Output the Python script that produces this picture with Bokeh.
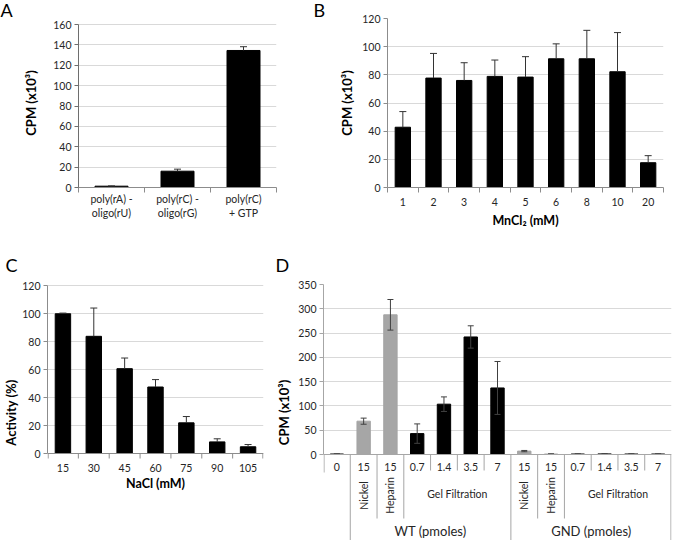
from bokeh.plotting import figure
from bokeh.layouts import column, row
from bokeh.models import Range1d, FixedTicker
from bokeh.embed import file_html
from bokeh.resources import INLINE
from bokeh.core.properties import value

FONT = "Lato"
TICK_COLOR = "#262626"
GRID = "#d9d9d9"
AXIS = "#8c8c8c"
ERR = "#333333"

# ---------------- data ----------------
# Panel A
a_labels = ["poly(rA) -\noligo(rU)", "poly(rC) -\noligo(rG)", "poly(rC)\n+ GTP"]
a_values = [1.3, 16.0, 134.5]
a_errors = [0.3, 2.0, 3.7]

# Panel B
b_labels = ["1", "2", "3", "4", "5", "6", "8", "10", "20"]
b_values = [42.8, 77.7, 76.0, 78.9, 78.4, 91.4, 91.4, 82.2, 17.6]
b_errors = [11.1, 17.5, 12.6, 11.6, 14.5, 10.6, 20.2, 27.8, 5.0]

# Panel C
c_labels = ["15", "30", "45", "60", "75", "90", "105"]
c_values = [99.8, 83.7, 60.6, 47.5, 21.9, 8.3, 4.8]
c_errors = [0.5, 20.2, 7.6, 5.3, 4.5, 2.2, 1.6]

# Panel D
d_amounts = ["0", "15", "15", "0.7", "1.4", "3.5", "7", "15", "15", "0.7", "1.4", "3.5", "7"]
d_methods = ["", "Nickel", "Heparin", "Gel Filtration", "Gel Filtration", "Gel Filtration", "Gel Filtration",
             "Nickel", "Heparin", "Gel Filtration", "Gel Filtration", "Gel Filtration", "Gel Filtration"]
d_groups = ["", "WT (pmoles)", "WT (pmoles)", "WT (pmoles)", "WT (pmoles)", "WT (pmoles)", "WT (pmoles)",
            "GND (pmoles)", "GND (pmoles)", "GND (pmoles)", "GND (pmoles)", "GND (pmoles)", "GND (pmoles)"]
d_values = [1.0, 68.6, 287.6, 43.0, 103.6, 242.0, 137.0, 7.0, 1.0, 1.0, 1.2, 1.0, 1.0]
d_errors = [0.3, 6.3, 31.5, 20.0, 15.0, 23.0, 54.5, 1.3, 0.3, 0.3, 0.3, 0.3, 0.3]


def make_fig(width, height, n, ystart, yend, borders, x_axis=True):
    kw = {}
    if not x_axis:
        kw["x_axis_location"] = None
    p = figure(width=width, height=height, x_range=Range1d(0.5, n + 0.5), y_range=Range1d(ystart, yend),
               output_backend="svg", toolbar_location=None,
               min_border_left=borders[0], min_border_right=borders[1],
               min_border_top=borders[2], min_border_bottom=borders[3], **kw)
    p.outline_line_color = None
    p.xgrid.grid_line_color = None
    p.ygrid.grid_line_color = GRID
    return p


def style_y(p, ymax, step, ylabel, standoff, axis_color=AXIS):
    ax = p.yaxis[0]
    ax.ticker = FixedTicker(ticks=list(range(0, ymax + 1, step)))
    ax.bounds = (0, ymax)
    ax.axis_line_color = axis_color
    ax.major_tick_line_color = axis_color
    ax.major_tick_out = 4
    ax.major_tick_in = 0
    ax.minor_tick_line_color = None
    ax.major_label_text_font = FONT
    ax.major_label_text_font_size = "10.5px"
    ax.major_label_text_color = TICK_COLOR
    ax.major_label_standoff = 3
    ax.axis_label = ylabel
    ax.axis_label_text_font = FONT
    ax.axis_label_text_font_size = "13px"
    ax.axis_label_text_font_style = "bold"
    ax.axis_label_text_color = "black"
    ax.axis_label_standoff = standoff


def letter(p, text, offset, standoff):
    p.title.text = text
    p.title.align = "left"
    p.title.vertical_align = "top"
    p.title.offset = offset
    p.title.standoff = standoff
    p.title.text_font = FONT
    p.title.text_font_size = "18px"
    p.title.text_font_style = "normal"
    p.title.text_color = "black"


def bars_up(p, values, errors):
    xs = list(range(1, len(values) + 1))
    p.vbar(x=xs, top=values, width=0.5, fill_color="black", line_color="black")
    tops = [v + e for v, e in zip(values, errors)]
    p.segment(x0=xs, y0=values, x1=xs, y1=tops, line_color=ERR, line_width=1)
    p.scatter(x=xs, y=tops, marker="dash", size=7, line_color=ERR, line_width=1)
    return xs


def real_x_axis(p, labels, xs, standoff, xlabel=None, axis_color=AXIS):
    n = len(labels)
    ax = p.xaxis[0]
    ax.ticker = FixedTicker(ticks=xs, minor_ticks=[i + 0.5 for i in range(n + 1)])
    ax.major_label_overrides = {x: l for x, l in zip(xs, labels)}
    ax.major_tick_out = 0
    ax.major_tick_in = 0
    ax.minor_tick_out = 5
    ax.minor_tick_in = 0
    ax.axis_line_color = axis_color
    ax.minor_tick_line_color = axis_color
    ax.major_label_text_font = FONT
    ax.major_label_text_font_size = "10.5px"
    ax.major_label_text_color = TICK_COLOR
    ax.major_label_standoff = standoff
    if xlabel:
        ax.axis_label = xlabel
        ax.axis_label_text_font = FONT
        ax.axis_label_text_font_size = "12.5px"
        ax.axis_label_text_font_style = "bold"
        ax.axis_label_text_color = "black"
        ax.axis_label_standoff = 4


# ---------------- Row 1 : A and B (frames 18..187) ----------------
ROW1_H = 245
TOP1, BOT1 = 18, ROW1_H - 187

# A: 0 at frame bottom (187), 160 at y=24
a_top = 160 + 6 * 160 / 163.0
pA = make_fig(312, ROW1_H, len(a_labels), 0, a_top, (78, 36, TOP1, BOT1))
style_y(pA, 160, 20, "CPM (x10³)", 11, axis_color="#6e6e6e")
xsA = bars_up(pA, a_values, a_errors)
real_x_axis(pA, a_labels, xsA, 0, axis_color="#8c8c8c")
letter(pA, "A", -78, -9)

pB = make_fig(362, ROW1_H, len(b_labels), 0, 120, (75, 11, TOP1, BOT1))
style_y(pB, 120, 20, "CPM (x10³)", 4)
xsB = bars_up(pB, b_values, b_errors)
real_x_axis(pB, b_labels, xsB, 5, xlabel="MnCl₂ (mM)")
letter(pB, "B", -74, -9)

# ---------------- Row 2 : C and D (frames 284..540) ----------------
ROW2_H = 540 - ROW1_H
TOP2 = 284 - ROW1_H

# C: 0 at y=453, 120 at y=285 -> 1.4 px per unit
kC = 168 / 120.0
pC = make_fig(270, ROW2_H, len(c_labels), -(540 - 453) / kC, 120 + 1 / kC, (42, 7, TOP2, 0), x_axis=False)
style_y(pC, 120, 20, "Activity (%)", 0)
xsC = bars_up(pC, c_values, c_errors)
nC = len(c_labels)
pC.segment(x0=[0.5], y0=[0], x1=[nC + 0.5], y1=[0], line_color=AXIS, line_width=1)
bx = [i + 0.5 for i in range(nC + 1)]
bx[0] += 0.02
bx[-1] -= 0.02
pC.segment(x0=bx, y0=[0] * len(bx), x1=bx, y1=[-5 / kC] * len(bx), line_color=AXIS, line_width=1)
pC.text(x=xsC, y=[-14 / kC] * nC, text=c_labels, text_font=value(FONT), text_font_size="10.5px",
        text_color=TICK_COLOR, text_align="center", text_baseline="middle")
pC.text(x=[(nC + 1) / 2], y=[-30 / kC], text=["NaCl (mM)"], text_font=value(FONT),
        text_font_size="12.5px", text_font_style="bold", text_color="black",
        text_align="center", text_baseline="middle")
letter(pC, "C", -42, 13)

# D: 0 at y=454, 350 at y=284
n = len(d_amounts)
xs = list(range(1, n + 1))
PX = 350.0 / 170.0  # data units per pixel
ybot = -86 * PX
pD = make_fig(404, ROW2_H, n, ybot, 350, (53, 3, TOP2, 0), x_axis=False)
style_y(pD, 350, 50, "CPM (x10³)", 3, axis_color="#a6a6a6")

colors = ["#a6a6a6" if m in ("Nickel", "Heparin") else "black" for m in d_methods]
pD.vbar(x=xs, top=d_values, width=0.5, fill_color=colors, line_color=colors)
lo = [v - e for v, e in zip(d_values, d_errors)]
hi = [v + e for v, e in zip(d_values, d_errors)]
pD.segment(x0=xs, y0=lo, x1=xs, y1=hi, line_color="#404040", line_width=1)
pD.scatter(x=xs + xs, y=lo + hi, marker="dash", size=6, line_color="#404040", line_width=1)

SEP = "#a6a6a6"
pD.segment(x0=[0.5], y0=[0], x1=[n + 0.5], y1=[0], line_color=SEP, line_width=1)
sx, sy0, sy1 = [0.52], [0], [-18 * PX]
for i in range(1, n + 1):
    b = i + 0.5
    if i == n or d_groups[i] != d_groups[i - 1]:
        end = ybot
    elif d_methods[i] != d_methods[i - 1]:
        end = -64 * PX
    else:
        end = -16 * PX
    sx.append(min(b, n + 0.48))
    sy0.append(0)
    sy1.append(end)
pD.segment(x0=sx, y0=sy0, x1=sx, y1=sy1, line_color=SEP, line_width=1)

pD.text(x=xs, y=[-12 * PX] * n, text=d_amounts, text_font=value(FONT), text_font_size="10.5px",
        text_color=TICK_COLOR, text_align="center", text_baseline="middle")


def runs(seq):
    out = []
    start = 0
    for i in range(1, len(seq) + 1):
        if i == len(seq) or seq[i] != seq[start]:
            out.append((seq[start], start, i - 1))
            start = i
    return out


rot_x, rot_t, hor_x, hor_t = [], [], [], []
for (g, m), s, e in runs(list(zip(d_groups, d_methods))):
    if not m:
        continue
    cx = (xs[s] + xs[e]) / 2
    if s == e:
        rot_x.append(cx)
        rot_t.append(m)
    else:
        hor_x.append(cx)
        hor_t.append(m)
pD.text(x=rot_x, y=[-41 * PX] * len(rot_x), text=rot_t, angle=1.5708, text_font=value(FONT),
        text_font_size="10.5px", text_color=TICK_COLOR, text_align="center", text_baseline="middle")
pD.text(x=hor_x, y=[-39 * PX] * len(hor_x), text=hor_t, text_font=value(FONT),
        text_font_size="10.5px", text_color=TICK_COLOR, text_align="center", text_baseline="middle")

gx, gt = [], []
for g, s, e in runs(d_groups):
    if g:
        gx.append((xs[s] + xs[e]) / 2)
        gt.append(g)
pD.text(x=gx, y=[-76 * PX] * len(gx), text=gt, text_font=value(FONT), text_font_size="13px",
        text_color=TICK_COLOR, text_align="center", text_baseline="middle")
letter(pD, "D", -48, 13)

layout = column(row(pA, pB), row(pC, pD))
open("out.html", "w").write(file_html(layout, INLINE))
